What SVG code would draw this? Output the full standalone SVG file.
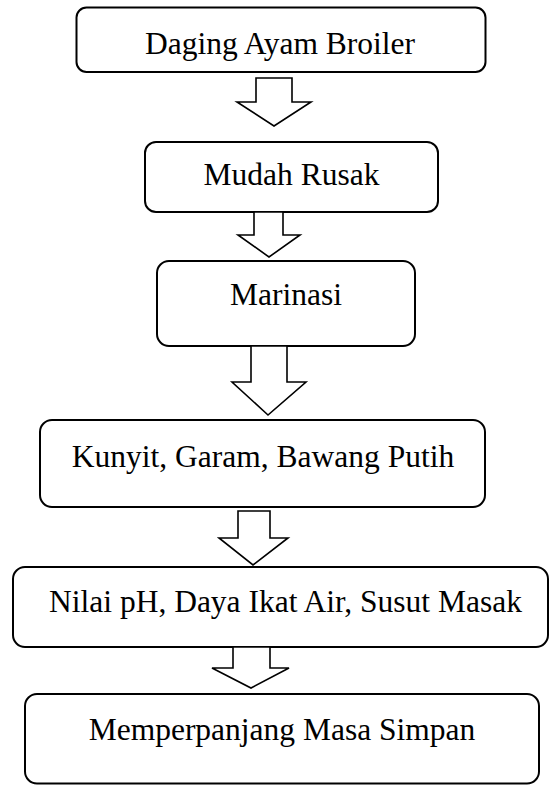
<svg xmlns="http://www.w3.org/2000/svg" width="550" height="785" viewBox="0 0 550 785">
<style>
.box{fill:#fff;stroke:#000;stroke-width:2}
.lbl{font-family:"Liberation Serif","Times New Roman",serif;font-size:31.5px;fill:#000;text-anchor:middle}
.arr{fill:#fff;stroke:#000;stroke-width:1.6;stroke-linejoin:miter}
</style>
<rect width="550" height="785" fill="#fff"/>
<g id="n1"><rect class="box" x="76.5" y="7.5" width="409" height="64.5" rx="10"/><text class="lbl" x="280" y="54">Daging Ayam Broiler</text></g>
<g id="n2"><rect class="box" x="145" y="142" width="293" height="70" rx="11"/><text class="lbl" x="291.5" y="185">Mudah Rusak</text></g>
<g id="n3"><rect class="box" x="157" y="261" width="258" height="85" rx="12"/><text class="lbl" x="286" y="305">Marinasi</text></g>
<g id="n4"><rect class="box" x="40" y="420" width="445" height="87" rx="12"/><text class="lbl" x="263" y="467">Kunyit, Garam, Bawang Putih</text></g>
<g id="n5"><rect class="box" x="13" y="567" width="535" height="80" rx="12"/><text class="lbl" x="285.5" y="612">Nilai pH, Daya Ikat Air, Susut Masak</text></g>
<g id="n6"><rect class="box" x="25" y="694" width="514" height="89.5" rx="12"/><text class="lbl" x="282" y="740">Memperpanjang Masa Simpan</text></g>
<g id="connectors">
<polygon class="arr" points="256,78 292,78 292,102 311,102 274,126 237,102 256,102"/>
<polygon class="arr" points="254,212 283,212 283,235 300,235 269,257 238,235 254,235"/>
<polygon class="arr" points="251,346 287,346 287,382 306,382 268,415 232,382 251,382"/>
<polygon class="arr" points="238,511 270,511 270,538 288,538 253,565 219,538 238,538"/>
<polygon class="arr" points="233,647 270,647 270,668 289,668 251,688 212,668 233,668"/>
</g>
</svg>
